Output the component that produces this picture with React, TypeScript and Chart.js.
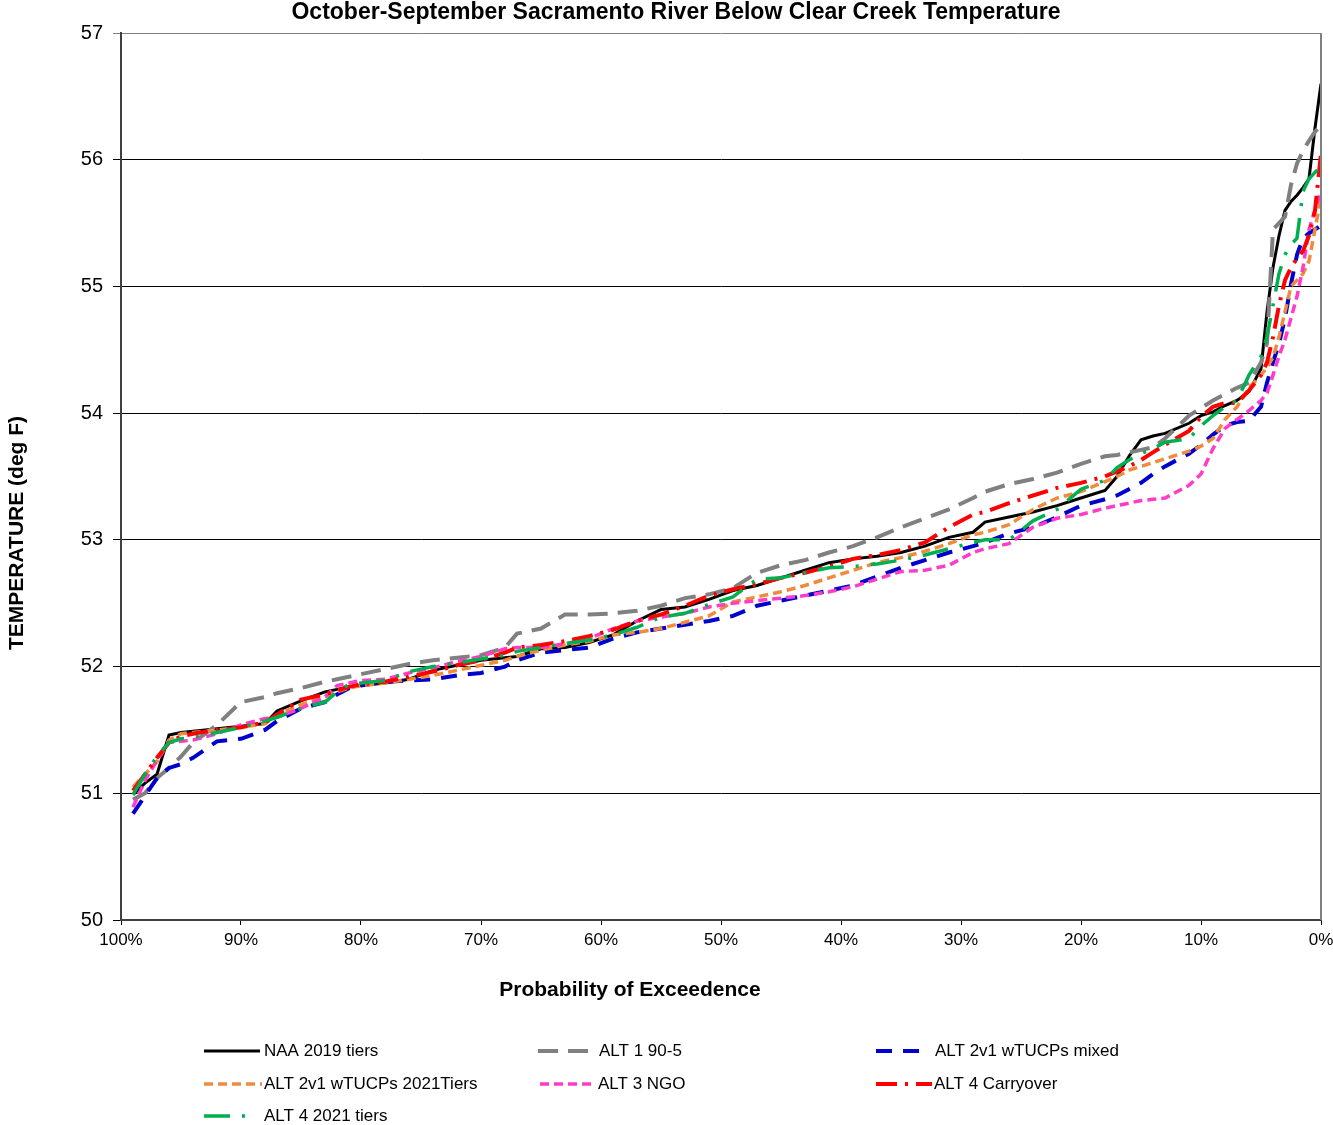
import React, { useEffect, useRef } from "react";
import { Chart, registerables } from "chart.js";

Chart.register(...registerables);

const TITLE = "October-September Sacramento River Below Clear Creek Temperature";
const Y_TITLE = "TEMPERATURE (deg F)";
const X_TITLE = "Probability of Exceedence";

const probs = [99, 98, 97, 96, 95, 94, 92, 90, 88, 87, 85, 83, 82, 81, 80, 78, 76, 74, 72, 70, 68, 67, 65, 63, 61, 59, 57, 55, 53, 51, 49, 47, 45, 43, 41, 39, 37, 35, 33, 31, 29, 28, 26, 24, 22, 20, 18, 17, 16, 15, 14, 13, 11, 10, 9, 8, 7, 6, 5, 4.5, 4, 3.5, 3, 2.5, 2, 1.5, 1, 0.5, 0];

const naa2019 = [50.99, 51.08, 51.15, 51.46, 51.48, 51.49, 51.51, 51.53, 51.55, 51.65, 51.73, 51.8, 51.82, 51.84, 51.85, 51.87, 51.9, 51.97, 52.01, 52.05, 52.07, 52.08, 52.14, 52.15, 52.19, 52.25, 52.36, 52.45, 52.47, 52.53, 52.6, 52.64, 52.7, 52.76, 52.82, 52.85, 52.87, 52.9, 52.95, 53.02, 53.06, 53.14, 53.18, 53.22, 53.27, 53.33, 53.39, 53.5, 53.66, 53.79, 53.82, 53.84, 53.92, 53.98, 54.01, 54.06, 54.1, 54.17, 54.35, 54.8, 55.15, 55.4, 55.6, 55.67, 55.72, 55.78, 55.85, 56.25, 56.6];
const alt1 = [50.95, 51.0, 51.12, 51.2, 51.29, 51.4, 51.54, 51.72, 51.76, 51.79, 51.83, 51.88, 51.9, 51.92, 51.94, 51.98, 52.02, 52.05, 52.07, 52.09, 52.15, 52.26, 52.3, 52.41, 52.41, 52.42, 52.44, 52.48, 52.54, 52.57, 52.62, 52.74, 52.8, 52.84, 52.9, 52.95, 53.02, 53.1, 53.17, 53.24, 53.33, 53.38, 53.44, 53.48, 53.53, 53.6, 53.66, 53.67, 53.69, 53.71, 53.73, 53.8, 53.98, 54.04, 54.1, 54.15, 54.2, 54.24, 54.4, 54.55, 55.45, 55.5, 55.55, 55.8, 55.97, 56.07, 56.15, 56.22, 56.27];
const alt2Mixed = [50.84, 50.98, 51.12, 51.2, 51.23, 51.28, 51.41, 51.43, 51.5, 51.57, 51.67, 51.72, 51.78, 51.83, 51.85, 51.88, 51.89, 51.9, 51.93, 51.95, 52.0, 52.05, 52.11, 52.13, 52.15, 52.22, 52.27, 52.3, 52.33, 52.36, 52.4, 52.48, 52.52, 52.56, 52.6, 52.64, 52.71, 52.78, 52.84, 52.9, 52.95, 52.98, 53.05, 53.1, 53.18, 53.27, 53.32, 53.35, 53.4, 53.45, 53.52, 53.58, 53.68, 53.75, 53.83, 53.9, 53.93, 53.94, 54.05, 54.24, 54.4, 54.55, 54.75, 55.02, 55.25, 55.38, 55.42, 55.45, 55.48];
const alt2Tiers = [51.05, 51.15, 51.25, 51.42, 51.47, 51.48, 51.5, 51.52, 51.55, 51.62, 51.7, 51.76, 51.8, 51.83, 51.85, 51.87, 51.9, 51.93, 51.97, 52.01, 52.05, 52.08, 52.13, 52.17, 52.2, 52.25, 52.27, 52.3, 52.35, 52.4, 52.51, 52.55, 52.59, 52.64, 52.7, 52.76, 52.82, 52.86, 52.91, 52.97, 53.04, 53.06, 53.12, 53.24, 53.33, 53.38, 53.46, 53.5, 53.55, 53.58, 53.61, 53.64, 53.7, 53.74, 53.8, 53.95, 54.05, 54.2, 54.3, 54.36, 54.44, 54.6, 54.8, 55.0, 55.05, 55.1, 55.2, 55.45, 55.7];
const alt3Ngo = [50.89, 51.1, 51.26, 51.4, 51.41, 51.42, 51.47, 51.54, 51.59, 51.6, 51.67, 51.76, 51.85, 51.87, 51.89, 51.9, 51.95, 51.99, 52.04, 52.08, 52.14, 52.15, 52.15, 52.18, 52.22, 52.3, 52.36, 52.39, 52.42, 52.47, 52.5, 52.52, 52.54, 52.56, 52.59, 52.63, 52.69, 52.75, 52.76, 52.8, 52.9, 52.93, 52.97, 53.1, 53.17, 53.2, 53.25, 53.27, 53.29, 53.31, 53.32, 53.33, 53.43, 53.52, 53.72, 53.88, 53.95, 54.02, 54.1, 54.16, 54.3, 54.45, 54.58, 54.75, 54.92, 55.15, 55.45, 55.6, 55.76];
const alt4Carry = [51.02, 51.15, 51.28, 51.4, 51.45, 51.47, 51.5, 51.52, 51.56, 51.62, 51.74, 51.78, 51.81, 51.84, 51.86, 51.88, 51.92, 51.96, 52.01, 52.05, 52.11, 52.15, 52.17, 52.2, 52.24, 52.29, 52.36, 52.41, 52.48, 52.56, 52.61, 52.65, 52.7, 52.74, 52.79, 52.85, 52.88, 52.92, 52.98, 53.1, 53.2, 53.22, 53.29, 53.35, 53.41, 53.45, 53.5, 53.54, 53.58, 53.63, 53.69, 53.75, 53.86, 53.97, 54.05, 54.08, 54.08, 54.18, 54.3, 54.4, 54.6, 54.85, 55.05, 55.15, 55.22, 55.28, 55.4, 55.6, 56.05];
const alt4Tiers = [50.99, 51.15, 51.29, 51.4, 51.43, 51.44, 51.48, 51.52, 51.57, 51.6, 51.67, 51.72, 51.8, 51.86, 51.87, 51.89, 51.96, 52.0, 52.03, 52.06, 52.09, 52.12, 52.15, 52.18, 52.21, 52.25, 52.31, 52.39, 52.42, 52.49, 52.55, 52.69, 52.7, 52.74, 52.78, 52.79, 52.81, 52.84, 52.88, 52.93, 52.98, 53.0, 53.0, 53.15, 53.24, 53.4, 53.47, 53.57, 53.63, 53.68, 53.72, 53.77, 53.8, 53.9, 53.98, 54.05, 54.1, 54.3, 54.45, 54.6, 54.85, 55.1, 55.25, 55.33, 55.38, 55.75, 55.85, 55.9, 55.95];

const seriesNames = ["NAA 2019 tiers", "ALT 1 90-5", "ALT 2v1 wTUCPs mixed", "ALT 2v1 wTUCPs 2021Tiers", "ALT 3 NGO", "ALT 4 Carryover", "ALT 4 2021 tiers"];
const seriesValues = [naa2019, alt1, alt2Mixed, alt2Tiers, alt3Ngo, alt4Carry, alt4Tiers];
const seriesColors = ["#000000", "#808080", "#0000CC", "#F08A3C", "#FF3CC8", "#FF0000", "#00B050"];
const seriesDash: number[][] = [[], [20, 10], [16, 11], [9, 5], [9, 5], [21, 8, 3, 8], [26, 12, 3, 12]];
const seriesWidth = [3, 4, 4, 3.5, 3.5, 4, 3.5];
const legendLen = [56, 52, 44, 58, 56, 56, 50];

const yTicks = [50, 51, 52, 53, 54, 55, 56, 57];
const xTicks = [0, 10, 20, 30, 40, 50, 60, 70, 80, 90, 100];

const FONT = "'Liberation Sans', Arial, Helvetica, sans-serif";

const legendPos = [
  { x: 204, y: 1051, tx: 264 },
  { x: 538, y: 1051, tx: 599 },
  { x: 876, y: 1051, tx: 935 },
  { x: 204, y: 1084, tx: 264 },
  { x: 540, y: 1084, tx: 598 },
  { x: 876, y: 1084, tx: 934 },
  { x: 204, y: 1116, tx: 264 },
];

const decorPlugin = {
  id: "decor",
  afterDraw(chart: any) {
    const ctx = chart.ctx as CanvasRenderingContext2D;
    const area = chart.chartArea;
    ctx.save();
    ctx.strokeStyle = "#808080";
    ctx.lineWidth = 2;
    ctx.beginPath();
    ctx.moveTo(area.right, area.top);
    ctx.lineTo(area.right, area.bottom);
    ctx.stroke();

    ctx.fillStyle = "#000";
    ctx.textAlign = "center";
    ctx.textBaseline = "middle";
    ctx.font = `bold 23px ${FONT}`;
    ctx.fillText(TITLE, 676, 13);

    ctx.font = `bold 21px ${FONT}`;
    ctx.fillText(X_TITLE, 630, 990);

    ctx.save();
    ctx.translate(17, 533);
    ctx.rotate(-Math.PI / 2);
    ctx.font = `bold 21px ${FONT}`;
    ctx.fillText(Y_TITLE, 0, 0);
    ctx.restore();

    ctx.font = `17px ${FONT}`;
    ctx.textAlign = "left";
    seriesNames.forEach((name, i) => {
      const p = legendPos[i];
      ctx.save();
      ctx.strokeStyle = seriesColors[i];
      ctx.lineWidth = seriesWidth[i];
      ctx.setLineDash(seriesDash[i]);
      ctx.beginPath();
      ctx.moveTo(p.x, p.y);
      ctx.lineTo(p.x + legendLen[i], p.y);
      ctx.stroke();
      ctx.restore();
      ctx.fillStyle = "#000";
      ctx.fillText(name, p.tx, p.y);
    });
    ctx.restore();
  },
};

export default function App() {
  const ref = useRef<HTMLCanvasElement | null>(null);
  useEffect(() => {
    document.body.style.margin = "0";
    const canvas = ref.current;
    if (!canvas) return;
    Chart.defaults.font.family = FONT;
    const datasets = seriesNames.map((name, i) => ({
      label: name,
      data: probs.map((p, j) => ({ x: p, y: seriesValues[i][j] })),
      borderColor: seriesColors[i],
      backgroundColor: seriesColors[i],
      borderWidth: seriesWidth[i],
      borderDash: seriesDash[i],
      pointRadius: 0,
      tension: 0,
      fill: false,
      order: seriesNames.length - i,
    }));
    const chart = new Chart(canvas, {
      type: "line",
      data: { datasets },
      options: {
        animation: false,
        responsive: false,
        devicePixelRatio: 1,
        layout: { padding: { left: 0, right: 12, top: 33, bottom: 0 } },
        plugins: {
          legend: { display: false },
          title: { display: false },
          tooltip: { enabled: false },
        },
        scales: {
          x: {
            type: "linear",
            min: 0,
            max: 100,
            reverse: true,
            afterBuildTicks: (scale: any) => {
              scale.ticks = xTicks.map((v) => ({ value: v }));
            },
            ticks: {
              callback: (v: any) => `${v}%`,
              font: { size: 17, family: FONT },
              color: "#000",
              padding: 5,
              maxRotation: 0,
              autoSkip: false,
            },
            grid: {
              drawOnChartArea: false,
              drawTicks: true,
              tickLength: 5,
              color: "#000",
            },
            border: { color: "#404040", width: 2 },
            afterFit: (scale: any) => {
              scale.height = 205;
            },
          },
          y: {
            type: "linear",
            min: 50,
            max: 57,
            afterBuildTicks: (scale: any) => {
              scale.ticks = yTicks.map((v) => ({ value: v }));
            },
            ticks: {
              font: { size: 20, family: FONT },
              color: "#000",
              padding: 10,
            },
            grid: {
              color: (c: any) => (c.tick && c.tick.value === 57 ? "#808080" : "#000"),
              lineWidth: 1,
              drawTicks: true,
              tickLength: 8,
            },
            border: { color: "#404040", width: 2 },
            afterFit: (scale: any) => {
              scale.width = 121;
            },
          },
        },
      },
      plugins: [decorPlugin],
    });
    return () => chart.destroy();
  }, []);
  return <canvas ref={ref} width={1333} height={1125} style={{ display: "block" }} />;
}
